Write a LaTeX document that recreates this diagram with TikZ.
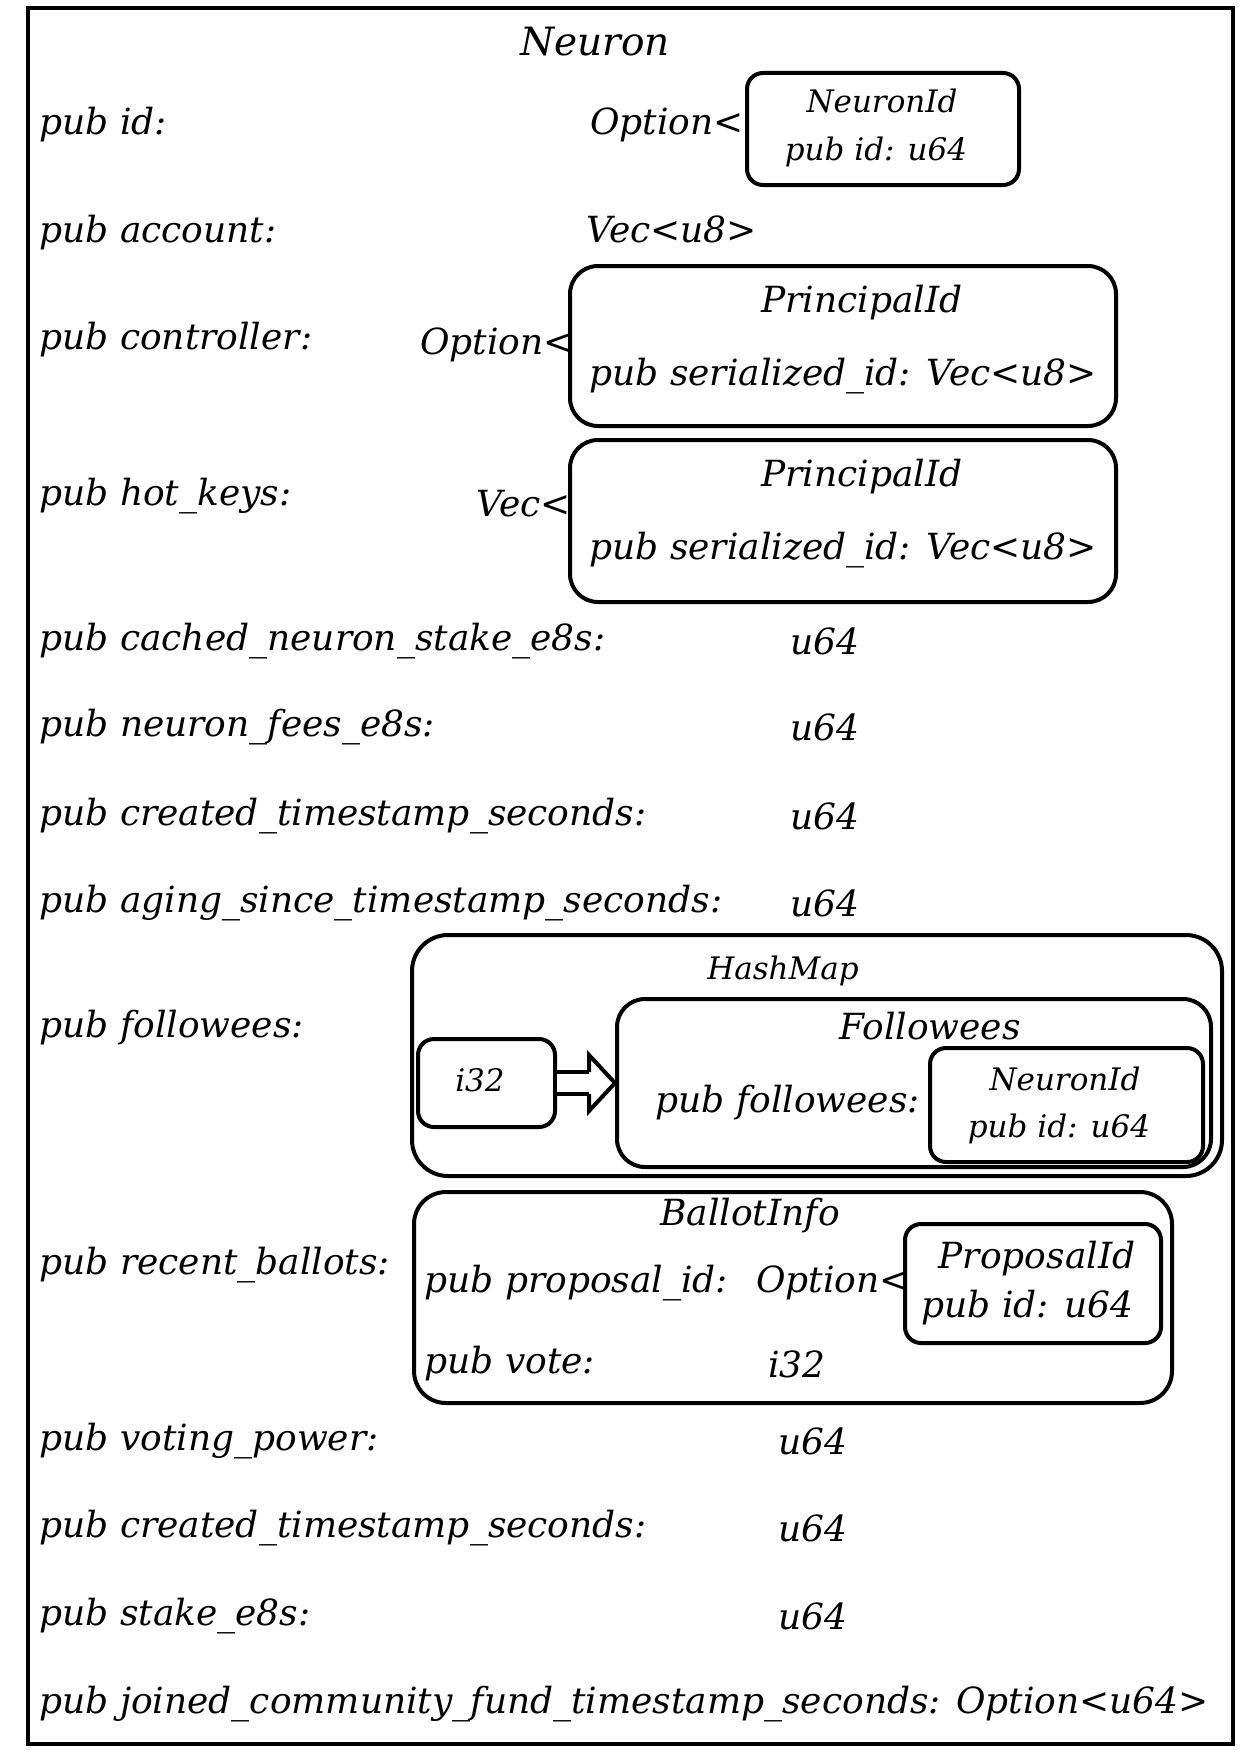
\documentclass[tikz,border=0pt]{standalone}
\usepackage{fontspec}
\setmainfont{DejaVu Serif}
\usetikzlibrary{calc}
\usetikzlibrary{positioning}
\tikzstyle{field} = [anchor=west, inner sep=0pt, font=\fontsize{18}{20}\selectfont\itshape]
\tikzstyle{title} = [inner sep=0pt, font=\fontsize{18}{20}\selectfont\itshape]
\tikzstyle{small} = [inner sep=0pt, font=\fontsize{15.5}{18}\selectfont\itshape]
\tikzstyle{typebox} = [draw, line width=2pt, rounded corners=8pt, inner sep=0pt]

\begin{document}
\begin{tikzpicture}[x=0.5pt, y=-0.5pt]
    \useasboundingbox (0,0) rectangle (1242,1750);
    \draw[line width=2pt] (28,8) rectangle (1233,1744);
    \node[title, font=\fontsize{19.5}{22}\selectfont\itshape] (neuron) at (595,42) {Neuron};

    % pub id
    \node[field] (fid) at (39,125) {pub id:};
    \node[field] (optid) at (590,125) {Option<};
    \node[typebox, minimum width=136pt, minimum height=56pt] (nidbox) at (883,129) {};
    \node[small] (nidname) at (882,101) {NeuronId};
    \node[small] (nidval) at (876,152) {pub id: u64};

    % pub account
    \node[field] (facc) at (39,233) {pub account:};
    \node[field] (vecacc) at (586,229) {Vec<u8>};

    % pub controller
    \node[field] (fctl) at (39,340) {pub controller:};
    \node[field] (optctl) at (420,345) {Option<};
    \node[typebox, rounded corners=14pt, minimum width=273pt, minimum height=80pt] (pidbox) at (843,346) {};
    \node[title] (pidname) at (862,303) {PrincipalId};
    \node[field] (pidval) at (589,376) {pub serialized\_id: Vec<u8>};

    % pub hot_keys
    \node[field] (fhot) at (39,496) {pub hot\_keys:};
    \node[field] (vechot) at (476,504) {Vec<};
    \node[typebox, rounded corners=14pt, minimum width=273pt, minimum height=81pt] (hotbox) at (843,521) {};
    \node[title] (hotname) at (862,477) {PrincipalId};
    \node[field] (hotval) at (589,550) {pub serialized\_id: Vec<u8>};

    % plain u64 fields
    \node[field] (fstake) at (39,641) {pub cached\_neuron\_stake\_e8s:};
    \node[field] (ustake) at (790,641) {u64};
    \node[field] (ffees) at (39,727) {pub neuron\_fees\_e8s:};
    \node[field] (ufees) at (790,727) {u64};
    \node[field] (fcreated) at (39,816) {pub created\_timestamp\_seconds:};
    \node[field] (ucreated) at (790,816) {u64};
    \node[field] (faging) at (39,903) {pub aging\_since\_timestamp\_seconds:};
    \node[field] (uaging) at (790,903) {u64};

    % pub followees
    \node[field] (ffol) at (39,1028) {pub followees:};
    \node[typebox, rounded corners=18pt, minimum width=405pt, minimum height=120.5pt] (mapbox) at (817,1055.5) {};
    \node[small] (mapname) at (783,971) {HashMap};
    \node[typebox, minimum width=68.5pt, minimum height=44pt] (keybox) at (486.5,1083) {};
    \node[small] (keyname) at (480,1080) {i32};
    \node[typebox, rounded corners=14pt, minimum width=297pt, minimum height=84pt] (folbox) at (914,1083) {};
    \node[title] (folname) at (930,1026) {Followees};
    \node[field] (folval) at (655,1103) {pub followees:};
    \node[typebox, minimum width=136.5pt, minimum height=57pt] (fnidbox) at (1066.5,1105) {};
    \node[small] (fnidname) at (1065,1079) {NeuronId};
    \node[small] (fnidval) at (1059,1129) {pub id: u64};
    \coordinate (tip) at (folbox.west);
    \draw[line width=2pt, double distance=9pt] (keybox) -- ($(tip)+(-26,0)$);
    \draw[line width=2pt, line join=miter] ($(tip)+(-26,-11)$) -- ++(0,-17) -- (tip) -- ++(-26,28) -- ++(0,-17);

    % pub recent_ballots
    \node[field] (fballot) at (39,1265) {pub recent\_ballots:};
    \node[typebox, rounded corners=16pt, minimum width=379pt, minimum height=105.5pt] (ballotbox) at (793,1297.5) {};
    \node[title] (ballotname) at (750,1216) {BallotInfo};
    \node[field] (bprop) at (424,1283) {pub proposal\_id:};
    \node[field] (bopt) at (756,1283) {Option<};
    \node[typebox, minimum width=128pt, minimum height=59.5pt] (propbox) at (1033,1283.5) {};
    \node[title] (propname) at (1037,1259) {ProposalId};
    \node[field] (propval) at (921,1308) {pub id: u64};
    \node[field] (bvote) at (424,1364) {pub vote:};
    \node[field] (bi32) at (768,1364) {i32};

    % tail fields
    \node[field] (fpower) at (39,1441) {pub voting\_power:};
    \node[field] (upower) at (778,1441) {u64};
    \node[field] (fcreated2) at (39,1528) {pub created\_timestamp\_seconds:};
    \node[field] (ucreated2) at (778,1528) {u64};
    \node[field] (fstake2) at (39,1616) {pub stake\_e8s:};
    \node[field] (ustake2) at (778,1616) {u64};
    \node[field] (fjoined) at (39,1704) {pub joined\_community\_fund\_timestamp\_seconds: Option<u64>};
\end{tikzpicture}
\end{document}
